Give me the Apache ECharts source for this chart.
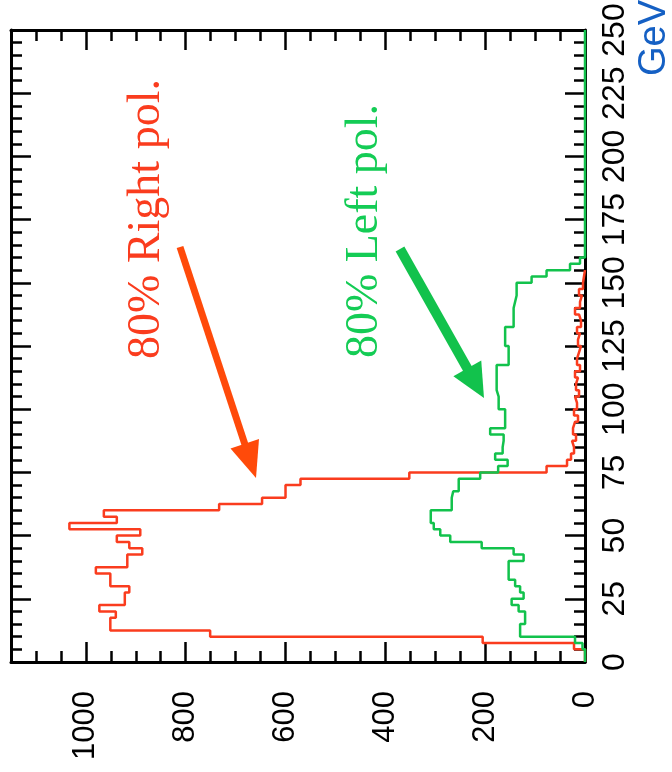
<!DOCTYPE html>
<html><head><meta charset="utf-8">
<script src="https://cdn.jsdelivr.net/npm/echarts@6/dist/echarts.min.js"></script>
<style>html,body{margin:0;padding:0;background:#fff}#c{width:672px;height:772px}</style>
</head><body><div id="c"></div>
<script>
// Energy bins (GeV), 2.5 GeV wide starting at 0
const binStart = 0;
const binWidth = 2.5;
// 80% Right polarisation histogram (entries per bin)
const rightPol = [
  0, 0, 22, 205,
  751, 951, 951, 940,
  973, 922, 922, 913,
  951, 951, 980, 917,
  917, 887, 913, 938,
  891, 1033, 938, 964,
  733, 647, 600, 600,
  570, 352, 77, 36,
  28, 22, 26, 18,
  24, 20, 14, 22,
  16, 20, 12, 18,
  14, 20, 10, 16,
  12, 8, 14, 10,
  16, 8, 12, 20,
  10, 6, 12, 4,
  2, 0
];
// 80% Left polarisation histogram
const leftPol = [
  0, 0, 5, 20,
  130, 130, 120, 120,
  133, 147, 123, 130,
  140, 153, 153, 153,
  123, 143, 207, 270,
  290, 303, 309, 309,
  267, 267, 264, 253,
  253, 210, 174, 155,
  180, 165, 163, 163,
  190, 160, 160, 160,
  173, 173, 177, 177,
  177, 177, 177, 153,
  153, 153, 160, 160,
  160, 143, 143, 143,
  140, 137, 137, 137,
  107, 77, 30, 10,
  0, 0, 0, 0, 0, 0, 0, 0, 0, 0, 0, 0, 0, 0, 0, 0, 0, 0,
  0, 0, 0, 0, 0, 0, 0, 0, 0, 0, 0, 0, 0, 0, 0, 0, 0, 0
];
// axis ranges / tick steps
const countRange = [0, 1150];
const countMajor = 200;
const countMinor = 50;
const gevRange = [0, 250];
const gevMajor = 25;
const gevMinor = 5;
const labels = { right: '80% Right pol.', left: '80% Left pol.', unit: 'GeV' };

function stepPath(values) {
  const pts = [[0, binStart]];
  values.forEach((v, i) => {
    const lo = binStart + i * binWidth, hi = lo + binWidth;
    pts.push([v, lo], [v, hi]);
  });
  pts.push([0, binStart + values.length * binWidth]);
  return pts;
}

const labelFont = { fontFamily: 'Liberation Sans', fontSize: 31, color: '#000', formatter: v => String(v) };
function xAx(pos, major, showLabel) {
  return {
    type: 'value', inverse: true, min: countRange[0], max: countRange[1],
    interval: major ? countMajor : countMinor, position: pos,
    axisLine: { show: major, onZero: false, lineStyle: { color: '#000', width: 3 } },
    axisTick: { show: true, inside: true, length: major ? 20 : 11, lineStyle: { color: '#000', width: 2.5 } },
    axisLabel: Object.assign({ show: showLabel, rotate: 90, margin: 29, showMaxLabel: false }, labelFont),
    splitLine: { show: false }
  };
}
function yAx(pos, major, showLabel) {
  return {
    type: 'value', min: gevRange[0], max: gevRange[1],
    interval: major ? gevMajor : gevMinor, position: pos,
    axisLine: { show: major, onZero: false, lineStyle: { color: '#000', width: 3 } },
    axisTick: { show: true, inside: true, length: major ? 20 : 11, lineStyle: { color: '#000', width: 2.5 } },
    axisLabel: Object.assign({ show: showLabel, rotate: 90, margin: 14 }, labelFont, { fontSize: 32 }),
    splitLine: { show: false }
  };
}

function arrow(x1, y1, x2, y2, w, headLen, headHalf, color) {
  const dx = x2 - x1, dy = y2 - y1, L = Math.hypot(dx, dy);
  const ux = dx / L, uy = dy / L, px = uy, py = -ux;
  const bx = x2 - ux * headLen, by = y2 - uy * headLen;
  return [
    { type: 'line', shape: { x1: x1, y1: y1, x2: bx + ux * 4, y2: by + uy * 4 }, style: { stroke: color, lineWidth: w }, z: 10 },
    { type: 'polygon', shape: { points: [[x2, y2], [bx + px * headHalf, by + py * headHalf], [bx - px * headHalf, by - py * headHalf]] }, style: { fill: color }, z: 10 }
  ];
}

const chart = echarts.init(document.getElementById('c'), null, { renderer: 'canvas' });
chart.setOption({
  animation: false,
  backgroundColor: '#fff',
  grid: { left: 11, right: 87, top: 30, bottom: 110 },
  xAxis: [xAx('bottom', true, true), xAx('bottom', false, false), xAx('top', true, false), xAx('top', false, false)],
  yAxis: [yAx('right', true, true), yAx('right', false, false), yAx('left', true, false), yAx('left', false, false)],
  series: [
    { type: 'line', name: labels.right, data: stepPath(rightPol), xAxisIndex: 0, yAxisIndex: 0, showSymbol: false, clip: false,
      lineStyle: { color: '#fa3c1e', width: 2.5 }, z: 5 },
    { type: 'line', name: labels.left, data: stepPath(leftPol), xAxisIndex: 0, yAxisIndex: 0, showSymbol: false, clip: false,
      lineStyle: { color: '#12c24c', width: 2.5 }, z: 6 }
  ],
  graphic: [
    { type: 'text', x: 147, y: 219, rotation: Math.PI / 2, z: 10,
      style: { text: labels.right, fill: '#fa3c1e', font: '46px "Liberation Serif"', textAlign: 'center', textVerticalAlign: 'middle' } },
    { type: 'text', x: 365, y: 231, rotation: Math.PI / 2, z: 10,
      style: { text: labels.left, fill: '#14cc55', font: '46px "Liberation Serif"', textAlign: 'center', textVerticalAlign: 'middle' } },
    { type: 'text', x: 655, y: 38, rotation: Math.PI / 2, z: 10,
      style: { text: labels.unit, fill: '#1560c4', font: '38px "Liberation Sans"', textAlign: 'center', textVerticalAlign: 'middle' } }
  ].concat(arrow(180, 247, 256, 478, 7, 36, 15, '#ff4a0a'))
   .concat(arrow(400, 249, 484, 398, 10, 34, 16, '#12c24c'))
});
</script></body></html>
